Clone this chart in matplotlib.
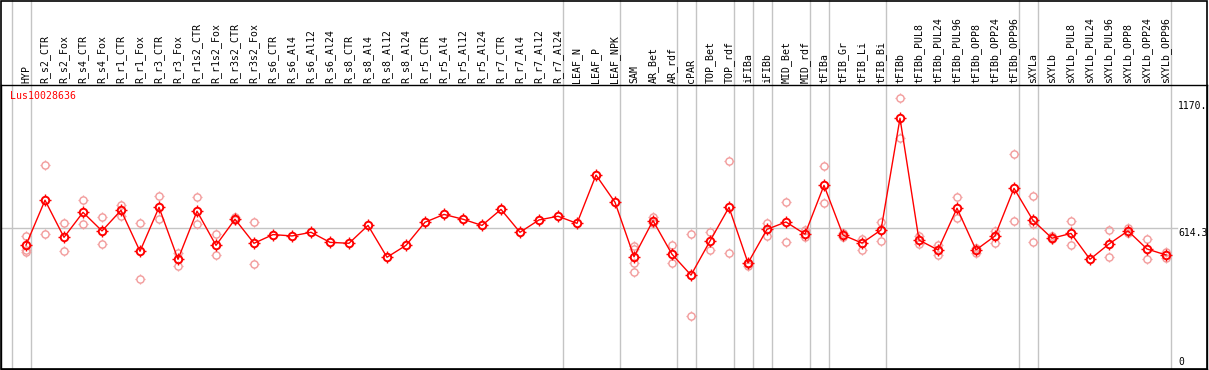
import matplotlib
matplotlib.use("Agg")
import matplotlib.pyplot as plt
import numpy as np
from matplotlib.path import Path
from matplotlib.patches import Rectangle
from matplotlib.transforms import blended_transform_factory

categories = [
    "HYP", "R_s2_CTR", "R_s2_Fox", "R_s4_CTR", "R_s4_Fox", "R_r1_CTR", "R_r1_Fox",
    "R_r3_CTR", "R_r3_Fox", "R_r1s2_CTR", "R_r1s2_Fox", "R_r3s2_CTR", "R_r3s2_Fox",
    "R_s6_CTR", "R_s6_Al4", "R_s6_Al12", "R_s6_Al24", "R_s8_CTR", "R_s8_Al4",
    "R_s8_Al12", "R_s8_Al24", "R_r5_CTR", "R_r5_Al4", "R_r5_Al12", "R_r5_Al24",
    "R_r7_CTR", "R_r7_Al4", "R_r7_Al12", "R_r7_Al24", "LEAF_N", "LEAF_P", "LEAF_NPK",
    "SAM", "AR_Bet", "AR_rdf", "cPAR", "TOP_Bet", "TOP_rdf", "iFIBa", "iFIBb",
    "MID_Bet", "MID_rdf", "tFIBa", "tFIB_Gr", "tFIB_Li", "tFIB_Bi", "tFIBb",
    "tFIBb_PUL8", "tFIBb_PUL24", "tFIBb_PUL96", "tFIBb_OPP8", "tFIBb_OPP24",
    "tFIBb_OPP96", "sXYLa", "sXYLb", "sXYLb_PUL8", "sXYLb_PUL24", "sXYLb_PUL96",
    "sXYLb_OPP8", "sXYLb_OPP24", "sXYLb_OPP96",
]

mean_values = [
    541, 737, 575, 684, 603, 693, 514, 706, 479, 689, 540, 654, 549,
    587, 581, 597, 553, 549, 627, 488, 540, 641, 675, 654, 627,
    697, 597, 651, 667, 636, 847, 728,
    490, 648, 501, 410, 559, 706, 463, 610,
    642, 589, 802, 585, 550, 607, 1095,
    563, 520, 702, 520, 581, 789,
    649, 571, 592, 479, 546, 603, 524, 498,
]

replicates = [
    [581, 520, 511], [889, 590], [638, 514], [738, 632], [662, 544], [716, 668],
    [636, 392], [754, 656], [507, 451], [750, 632], [588, 496], [662, 650], [641, 457],
    [], [], [], [], [], [], [], [], [], [], [], [], [], [], [], [], [], [], [],
    [537, 525, 461, 425], [665, 636], [540, 464], [588, 230], [598, 518], [907, 505],
    [459, 450], [638, 581], [729, 553], [607, 575], [885, 724], [595, 575], [568, 520],
    [643, 558], [1182, 1007], [581, 544], [540, 499], [750, 659], [527, 508],
    [604, 551], [939, 645], [755, 633, 553], [581, 566], [645, 540], [],
    [605, 488], [614, 592], [566, 479], [511, 485],
]

group_ends = [-1, 0, 28, 31, 34, 35, 37, 38, 39, 41, 42, 45, 52, 53, 60]
gene_name = "Lus10028636"
mean_line = 614.3
y_max_label = 1170.0

W, H = 1209, 370
fig = plt.figure(figsize=(W / 100, H / 100), dpi=100)
fig.patch.set_facecolor("white")

top_px, bot_px, left_px, right_px = 85, 369, 1, 1207
ax = fig.add_axes([left_px / W, (H - bot_px) / H, (right_px - left_px) / W, (bot_px - top_px) / H])
step = 19.0
xmin = (left_px - 26) / step
xmax = xmin + (right_px - left_px) / step
ax.set_xlim(xmin, xmax)
ax.set_ylim(0, (bot_px - top_px) / 0.229)
ax.set_xticks([])
ax.set_yticks([])
for s in ax.spines.values():
    s.set_linewidth(1.0)
    s.set_color("black")

fig.patches.append(Rectangle((left_px / W, (H - bot_px) / H), (right_px - left_px) / W,
                             (bot_px - 0.5) / H, transform=fig.transFigure,
                             fill=False, edgecolor="black", linewidth=1.2))

ext = (bot_px - 0) / (bot_px - top_px)
for g in group_ends:
    ax.axvline(g + 0.24, ymin=0, ymax=ext, color="#c4c4c4", lw=1.0, clip_on=False, zorder=1)

ax.plot([xmin, (1177 - 26) / step], [mean_line, mean_line], color="#c4c4c4", lw=1.0, zorder=1)

# tick marks around the circle markers
tverts, tcodes = [], []
for dx, dy in [(0, 1), (0, -1), (1, 0), (-1, 0)]:
    tverts += [(dx * 1.0, dy * 1.0), (dx * 1.4, dy * 1.4)]
    tcodes += [Path.MOVETO, Path.LINETO]
ticks_path = Path(tverts, tcodes)

x = np.arange(len(categories))
rx, ry = [], []
for i, reps in enumerate(replicates):
    for v in reps:
        rx.append(i)
        ry.append(v)

rep_color = "#f29a9a"
ax.plot(rx, ry, linestyle="none", marker="o", markersize=5.2, markerfacecolor="none",
        markeredgecolor=rep_color, markeredgewidth=1.0, zorder=2)
ax.plot(rx, ry, linestyle="none", marker=ticks_path, markersize=7.6,
        markeredgecolor=rep_color, markeredgewidth=0.9, zorder=2)
ax.plot(x, mean_values, color="#ff0000", lw=1.0, zorder=3)
ax.plot(x, mean_values, linestyle="none", marker="o", markersize=5.4, markerfacecolor="none",
        markeredgecolor="#ff0000", markeredgewidth=1.4, zorder=4)
ax.plot(x, mean_values, linestyle="none", marker=ticks_path, markersize=8.0,
        markeredgecolor="#ff0000", markeredgewidth=1.0, zorder=4)

mono = "DejaVu Sans Mono"
trans = blended_transform_factory(ax.transData, ax.transAxes)
for i, name in enumerate(categories):
    ax.text(i, 1.0 + 2 / (bot_px - top_px), name, rotation=90, ha="center", va="bottom",
            transform=trans, fontfamily=mono, fontsize=7.1, clip_on=False)

ax.text(xmin + 9 / step, 1.0 - 6 / (bot_px - top_px), gene_name, color="#ff0000",
        transform=trans, fontfamily=mono, fontsize=7.1, va="top", ha="left")

xr = (1178 - 26) / step
ax.text(xr, y_max_label, "1170.", fontfamily=mono, fontsize=7.0, va="top", ha="left")
ax.text(xr, mean_line, "614.3", fontfamily=mono, fontsize=7.0, va="top", ha="left")
ax.text(xr, 10, "0", fontfamily=mono, fontsize=7.0, va="bottom", ha="left")

fig.savefig("out.png", dpi=100)
